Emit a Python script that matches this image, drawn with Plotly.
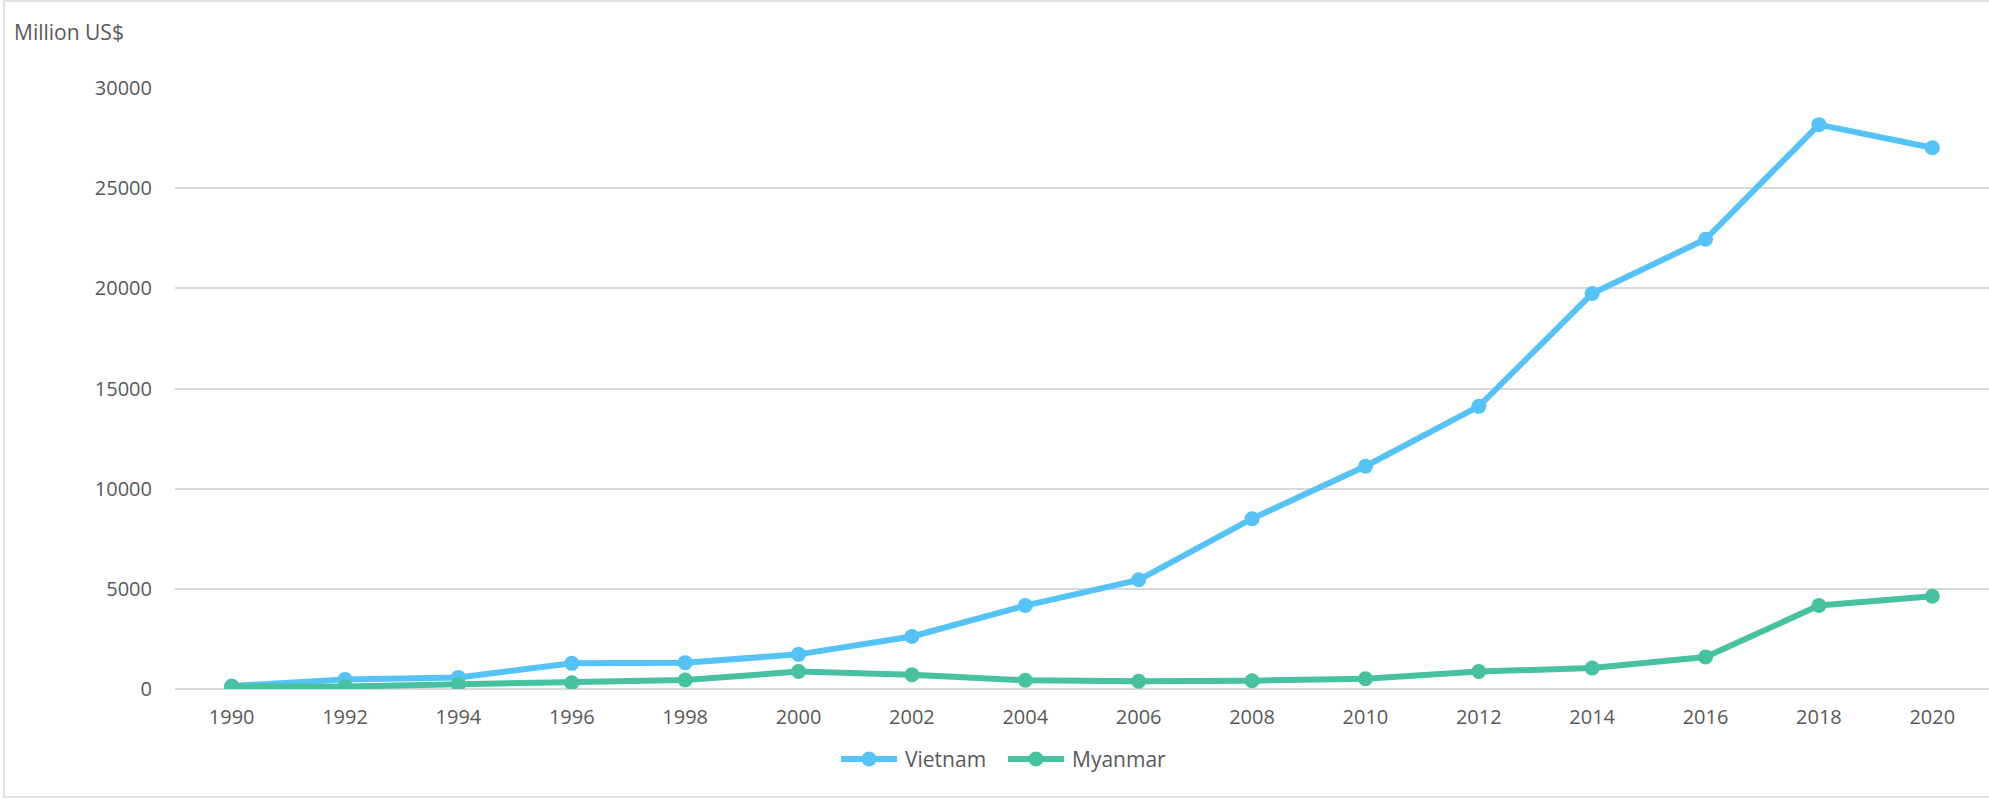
import plotly.graph_objects as go

# Foreign direct investment inflows, million US$
years = [1990, 1992, 1994, 1996, 1998, 2000, 2002, 2004, 2006, 2008,
         2010, 2012, 2014, 2016, 2018, 2020]
vietnam = [150, 480, 580, 1280, 1315, 1730, 2620, 4165, 5450, 8500,
           11120, 14110, 19740, 22450, 28170, 27020]
myanmar = [120, 120, 235, 315, 450, 870, 715, 435, 385, 415,
           515, 870, 1050, 1600, 4165, 4630]
y_ticks = [0, 5000, 10000, 15000, 20000, 25000, 30000]

series = [("Vietnam", vietnam, "#55C3F7"), ("Myanmar", myanmar, "#47C2A0")]

W, H = 1989, 799
L, R, T, B = 175, 0, 88, 110
plot_w = W - L - R
plot_h = H - T - B
text_color = "#595959"
grid_color = "#d9d9d9"
font_family = "Open Sans, Noto Sans, sans-serif"


def px_x(px):
    """Pixel column -> paper x."""
    return (px - L) / plot_w


def px_y(py):
    """Pixel row -> paper y."""
    return (T + plot_h - py) / plot_h


fig = go.Figure()
for name, values, color in series:
    fig.add_trace(go.Scatter(
        x=years, y=values, name=name, mode="lines+markers",
        line=dict(color=color, width=6),
        marker=dict(color=color, size=15),
        showlegend=False,
    ))

# Legend drawn below the plot: long key line with a dot, then the name
legend_row = 759
legend_keys = [(841, 897, 903), (1008, 1064, 1070)]
shapes = []
annotations = []
for (name, _, color), (x0, x1, xt) in zip(series, legend_keys):
    shapes.append(dict(
        type="line", xref="paper", yref="paper",
        x0=px_x(x0), x1=px_x(x1), y0=px_y(legend_row), y1=px_y(legend_row),
        line=dict(color=color, width=6),
    ))
    shapes.append(dict(
        type="circle", xref="paper", yref="paper",
        xsizemode="pixel", ysizemode="pixel",
        xanchor=px_x((x0 + x1) / 2), yanchor=px_y(legend_row),
        x0=-7.5, x1=7.5, y0=-7.5, y1=7.5,
        fillcolor=color, line=dict(width=0),
    ))
    annotations.append(dict(
        text=name, showarrow=False, xref="paper", yref="paper",
        x=px_x(xt), xanchor="left", y=px_y(legend_row), yanchor="middle",
        font=dict(size=21, color=text_color),
    ))

annotations.append(dict(
    text="Million US$", showarrow=False,
    xref="paper", yref="paper",
    x=px_x(12), xanchor="left",
    y=px_y(32), yanchor="middle",
    font=dict(size=21, color=text_color),
))

# Light outer frame of the chart
shapes.append(dict(
    type="rect", xref="paper", yref="paper",
    x0=px_x(4), x1=px_x(W + 5),
    y0=px_y(797), y1=px_y(1),
    line=dict(color=grid_color, width=1.5),
    fillcolor="rgba(0,0,0,0)", layer="below",
))

fig.update_layout(
    width=W, height=H,
    margin=dict(l=L, r=R, t=T, b=B, pad=0),
    paper_bgcolor="white", plot_bgcolor="white",
    font=dict(family=font_family, size=20, color=text_color),
    showlegend=False,
    xaxis=dict(
        range=[1989, 2021],
        tickmode="array", tickvals=years, ticktext=[str(y) for y in years],
        showgrid=False, zeroline=False, showline=False, ticks="",
        ticklabelstandoff=14,
        tickfont=dict(size=20, color=text_color),
        fixedrange=True,
    ),
    yaxis=dict(
        range=[0, 30000],
        tickmode="array", tickvals=y_ticks, ticktext=[str(v) for v in y_ticks],
        showgrid=True, gridcolor=grid_color, gridwidth=1.5,
        zeroline=True, zerolinecolor=grid_color, zerolinewidth=1.5,
        showline=False, ticks="",
        ticklabelstandoff=22,
        tickfont=dict(size=20, color=text_color),
        fixedrange=True,
    ),
    annotations=annotations,
    shapes=shapes,
)

fig.write_html("out.html")
